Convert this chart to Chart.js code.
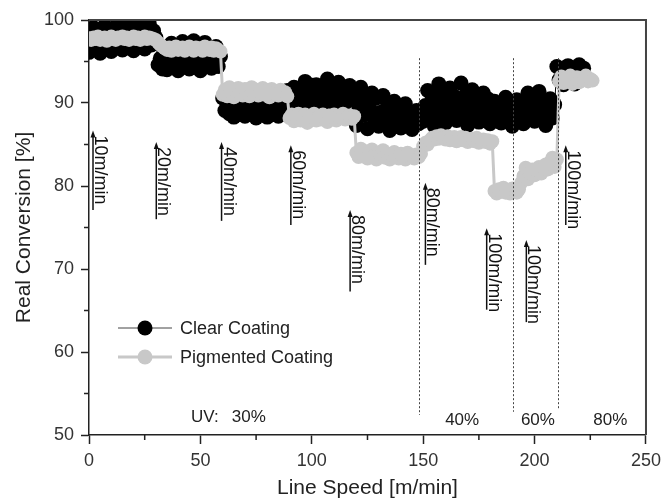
<!DOCTYPE html>
<html>
<head>
<meta charset="utf-8">
<script src="https://cdn.jsdelivr.net/npm/chart.js@4.4.0/dist/chart.umd.min.js"></script>
<style>
  html, body { margin: 0; padding: 0; background: #fff; }
  #wrap { width: 667px; height: 501px; position: relative; }
</style>
</head>
<body>
<div id="wrap"><canvas id="conversionChart"></canvas></div>
<script>
// line speed [m/min] of each sample
const lineSpeed = [
  0, 1, 2, 3, 4, 5, 6, 7, 8, 9, 10, 11, 12, 13, 14, 15, 16, 17, 18, 19,
  20, 21, 22, 23, 24, 25, 26, 27, 28, 29, 30, 31, 32, 33, 34, 35, 36, 37, 38, 39,
  40, 41, 42, 43, 44, 45, 46, 47, 48, 49, 50, 51, 52, 53, 54, 55, 56, 57, 58, 59,
  60, 61, 62, 63, 64, 65, 66, 67, 68, 69, 70, 71, 72, 73, 74, 75, 76, 77, 78, 79,
  80, 81, 82, 83, 84, 85, 86, 87, 88, 89, 90, 91, 92, 93, 94, 95, 96, 97, 98, 99,
  100, 101, 102, 103, 104, 105, 106, 107, 108, 109, 110, 111, 112, 113, 114, 115, 116, 117, 118, 119,
  120, 121, 122, 123, 124, 125, 126, 127, 128, 129, 130, 131, 132, 133, 134, 135, 136, 137, 138, 139,
  140, 141, 142, 143, 144, 145, 146, 147, 148, 149, 150, 151, 152, 153, 154, 155, 156, 157, 158, 159,
  160, 161, 162, 163, 164, 165, 166, 167, 168, 169, 170, 171, 172, 173, 174, 175, 176, 177, 178, 179,
  180, 181, 182, 183, 184, 185, 186, 187, 188, 189, 190, 191, 192, 193, 194, 195, 196, 197, 198, 199,
  200, 201, 202, 203, 204, 205, 206, 207, 208, 209, 210, 211, 212, 213, 214, 215, 216, 217, 218, 219,
  220, 221, 222, 223, 224, 225, 226
];

// real conversion [%], clear coating
const clearConv = [
  // 10 m/min
  96.1, 97.7, 99.1, 96.9, 98.4, 96.0, 97.8, 99.3, 96.8, 98.6, 96.2, 97.6, 99.2, 97.0, 98.5,
  96.4, 97.9, 99.6, 97.1, 98.8, 96.3, 98.0, 99.7, 97.2, 98.9, 96.5, 97.8, 99.6, 97.0, 98.7,
  // 20 m/min
  97.9, 94.6, 95.4, 94.1, 96.2, 94.0, 95.3, 97.2, 94.6, 96.3, 93.9, 95.2, 97.4, 94.7, 96.2,
  94.1, 95.4, 97.5, 94.5, 96.1, 93.9, 95.3, 97.3, 94.6, 96.3, 94.2, 95.1, 96.8, 94.4, 95.6,
  // 40 m/min
  90.6, 89.1, 89.9, 88.7, 89.5, 88.3, 89.2, 89.8, 88.6, 89.4, 88.4, 89.0, 89.9, 88.7, 89.5,
  88.2, 89.1, 89.8, 88.8, 89.4, 88.3, 89.2, 89.9, 88.6, 89.5, 88.4, 89.0, 89.8, 90.6, 91.5,
  // 60 m/min
  89.9, 91.3, 91.9, 90.6, 91.6, 90.0, 91.2, 92.6, 90.7, 92.2, 89.8, 91.4, 92.2, 90.5, 91.8,
  90.0, 91.3, 92.9, 90.6, 92.3, 89.9, 91.2, 92.5, 90.7, 92.0, 90.0, 91.4, 92.1, 90.6, 91.5,
  // 80 m/min
  87.3, 89.6, 91.9, 88.5, 90.8, 86.9, 89.3, 91.2, 88.2, 90.6, 87.2, 88.9, 90.9, 87.9, 89.7,
  86.7, 88.6, 90.2, 87.7, 89.6, 87.0, 88.3, 89.9, 87.5, 88.8, 86.8, 88.1, 89.1, 87.5, 88.7,
  // 80 m/min, UV 40%
  87.8, 89.7, 91.5, 88.6, 90.9, 87.2, 89.8, 92.3, 88.5, 91.0, 87.6, 89.6, 91.8, 88.7, 90.8, 87.9,
  89.8, 92.4, 88.6, 90.9, 87.3, 89.7, 91.6, 88.5, 90.8, 87.7, 89.5, 91.2, 88.4, 90.5, 87.5, 89.6,
  // 100 m/min, UV 40% / 60%
  90.2, 88.2, 89.7, 87.6, 89.0, 90.7, 88.3, 89.8, 87.2, 89.1, 90.4, 88.1, 89.9, 87.5,
  89.4, 91.2, 88.6, 90.4, 87.8, 89.5, 91.4, 88.4, 90.0, 87.3, 89.0, 90.5, 88.2, 89.8,
  // 100 m/min, UV 80%
  94.4, 92.8, 94.0, 92.2, 93.4, 94.5, 92.9, 94.0, 92.3, 93.5, 94.6, 92.8, 94.2,
  null, null, null, null
];

// real conversion [%], pigmented coating
const pigmentedConv = [
  // 10 m/min
  97.8, 97.6, 97.9, 97.7, 98.0, 97.6, 97.8, 97.9, 97.5, 97.8, 98.0, 97.7, 97.6, 97.9, 97.8,
  98.0, 97.7, 97.9, 97.6, 97.8, 98.0, 97.7, 97.9, 97.6, 97.8, 98.0, 97.7, 97.9, 97.8, 97.7,
  // 20 m/min
  97.6, 97.3, 97.0, 96.8, 96.6,
  96.4, 96.7, 96.3, 96.6, 96.8, 96.4, 96.5, 96.7, 96.3, 96.6, 96.8, 96.5, 96.3, 96.7, 96.5,
  96.6, 96.3, 96.8, 96.5, 96.4, 96.7, 96.3, 96.6, 96.4, 96.2,
  // 40 m/min
  91.0, 91.6, 90.8, 91.9, 91.3, 90.7, 91.5, 91.8, 91.1, 90.9, 91.7, 91.4, 90.8, 91.9, 91.2,
  91.6, 90.9, 91.3, 91.8, 91.0, 91.5, 90.7, 91.7, 91.2, 91.4, 90.9, 91.6, 91.1, 91.3, 90.8,
  // 60 m/min
  88.2, 88.6, 87.8, 88.4, 88.7, 87.9, 88.3, 88.6, 87.6, 88.1, 88.5, 88.7, 87.9, 88.3, 88.0,
  88.6, 88.2, 87.7, 88.5, 88.1, 88.6, 87.9, 88.4, 88.2, 88.7, 88.0, 88.3, 88.5, 88.1, 88.4,
  // 80 m/min
  84.0, 83.5, 84.5, 83.8, 84.2, 83.3, 83.9, 84.4, 83.6, 83.2, 84.0, 83.7, 84.3, 83.4, 83.9,
  83.2, 83.8, 84.1, 83.5, 83.3, 83.9, 83.6, 83.2, 84.0, 83.5, 83.7, 83.3, 83.8, 83.5, 83.9,
  // 80 m/min, UV 40%
  84.8, 85.2, 85.0, 85.5, 85.8, 85.6, 86.0, 85.7, 86.1, 85.8, 85.6, 86.0, 85.5, 85.8, 85.9, 85.4,
  85.7, 85.9, 85.5, 85.8, 85.3, 85.6, 85.7, 85.4, 85.8, 85.2, 85.5, 85.6, 85.3, 85.5, 85.1, 85.4,
  // 100 m/min, UV 40%
  79.4, 79.1, 79.6, 79.3, 79.8, 79.2, 79.5, 79.1, 79.7, 79.4, 79.2, 79.6,
  // 100 m/min, UV 60%
  80.4, 81.2, 82.2, 80.8, 81.6, 82.0, 81.3, 81.9, 82.3, 81.5, 82.1, 82.6, 82.0, 82.9, 83.4, 82.3, 83.2,
  // 100 m/min, UV 80%
  92.6, 93.2, 92.4, 93.0, 92.7, 93.3, 92.3, 92.9, 93.1, 92.5, 93.0, 92.8, 93.3, 92.6, 92.9, 92.7
];

// speed set points: arrow position (speed, conversion from/to) and label
const speedMarkX = [1.8, 30.2, 59.5, 90.6, 117.2, 151, 178.5, 196.3, 214];
const speedMarkLow = [77.1, 76.0, 75.8, 75.3, 67.3, 70.5, 65.1, 63.6, 75.3];
const speedMarkHigh = [86.7, 85.3, 85.3, 84.9, 77.1, 80.4, 74.9, 73.5, 84.9];
const speedMarkText = ['10m/min', '20m/min', '40m/min', '60m/min', '80m/min', '80m/min', '100m/min', '100m/min', '100m/min'];

// UV lamp power changes
const uvSwitchX = [148.2, 190.5, 210.6];
const uvSwitchLow = [52.4, 52.8, 53.0];
const uvSwitchHigh = [95.4, 95.4, 95.4];
const uvText = ['UV:', '30%', '40%', '60%', '80%'];
const uvTextX = [52, 71.7, 167.5, 201.5, 234];
const uvTextY = [52.1, 52.1, 51.8, 51.8, 51.8];

const xMinorTicks = [25, 75, 125, 175, 225];
const yMinorTicks = [55, 65, 75, 85, 95];

const FONT = '"Liberation Sans", Arial, Helvetica, sans-serif';
const INK = '#222';
const GREY = '#c8c8c8';

function toPoints(ys) {
  return lineSpeed.map((x, i) => ({ x: x, y: ys[i] }));
}

const extras = {
  id: 'extras',
  afterDatasetsDraw(chart) {
    const { ctx, chartArea: a, scales: { x, y } } = chart;
    ctx.save();

    // top and right frame
    ctx.strokeStyle = '#444';
    ctx.lineWidth = 2;
    ctx.beginPath();
    ctx.moveTo(a.left, a.top);
    ctx.lineTo(a.right, a.top);
    ctx.lineTo(a.right, a.bottom);
    ctx.stroke();

    // minor ticks
    ctx.strokeStyle = INK;
    ctx.lineWidth = 1.5;
    ctx.beginPath();
    xMinorTicks.forEach(v => {
      const px = x.getPixelForValue(v);
      ctx.moveTo(px, a.bottom);
      ctx.lineTo(px, a.bottom + 5);
    });
    yMinorTicks.forEach(v => {
      const py = y.getPixelForValue(v);
      ctx.moveTo(a.left, py);
      ctx.lineTo(a.left - 5, py);
    });
    ctx.stroke();

    // dashed UV switch lines
    ctx.strokeStyle = '#444';
    ctx.lineWidth = 1;
    ctx.setLineDash([2, 2]);
    uvSwitchX.forEach((v, i) => {
      const px = Math.round(x.getPixelForValue(v)) + 0.5;
      ctx.beginPath();
      ctx.moveTo(px, y.getPixelForValue(uvSwitchHigh[i]));
      ctx.lineTo(px, y.getPixelForValue(uvSwitchLow[i]));
      ctx.stroke();
    });
    ctx.setLineDash([]);

    // speed arrows with labels
    ctx.fillStyle = '#111';
    ctx.strokeStyle = '#111';
    ctx.lineWidth = 1.5;
    ctx.font = '18px ' + FONT;
    speedMarkX.forEach((v, i) => {
      const px = x.getPixelForValue(v);
      const lo = y.getPixelForValue(speedMarkLow[i]);
      const hi = y.getPixelForValue(speedMarkHigh[i]);
      ctx.beginPath();
      ctx.moveTo(px, lo);
      ctx.lineTo(px, hi + 5);
      ctx.stroke();
      ctx.beginPath();
      ctx.moveTo(px, hi);
      ctx.lineTo(px - 2.5, hi + 7);
      ctx.lineTo(px + 2.5, hi + 7);
      ctx.closePath();
      ctx.fill();
      ctx.save();
      ctx.translate(px + 2, hi + 5);
      ctx.rotate(Math.PI / 2);
      ctx.textAlign = 'left';
      ctx.textBaseline = 'alphabetic';
      ctx.fillText(speedMarkText[i], 0, 0);
      ctx.restore();
    });

    // UV power labels
    ctx.fillStyle = INK;
    ctx.font = '17px ' + FONT;
    ctx.textAlign = 'center';
    ctx.textBaseline = 'middle';
    uvText.forEach((t, i) => {
      ctx.fillText(t, x.getPixelForValue(uvTextX[i]), y.getPixelForValue(uvTextY[i]));
    });

    // legend
    const lx = a.left + 29, ly = a.top + 308;
    const rows = [
      { label: 'Clear Coating', line: '#444', lw: 1, fill: '#000' },
      { label: 'Pigmented Coating', line: GREY, lw: 3, fill: GREY }
    ];
    ctx.font = '18px ' + FONT;
    ctx.textAlign = 'left';
    rows.forEach((r, i) => {
      const yy = ly + i * 29;
      ctx.strokeStyle = r.line;
      ctx.lineWidth = r.lw;
      ctx.beginPath();
      ctx.moveTo(lx, yy);
      ctx.lineTo(lx + 54, yy);
      ctx.stroke();
      ctx.fillStyle = r.fill;
      ctx.beginPath();
      ctx.arc(lx + 27, yy, 7.5, 0, Math.PI * 2);
      ctx.fill();
      ctx.fillStyle = INK;
      ctx.fillText(r.label, lx + 62, yy + 1);
    });

    ctx.restore();
  }
};

new Chart(document.getElementById('conversionChart'), {
  type: 'line',
  data: {
    datasets: [
      {
        label: 'Clear Coating',
        data: toPoints(clearConv),
        order: 1,
        borderColor: '#000',
        borderWidth: 1,
        pointRadius: 7.5,
        pointBackgroundColor: '#000',
        pointBorderColor: '#000',
        pointBorderWidth: 0,
        tension: 0,
        spanGaps: false
      },
      {
        label: 'Pigmented Coating',
        data: toPoints(pigmentedConv),
        order: 0,
        borderColor: GREY,
        borderWidth: 3,
        pointRadius: 7,
        pointBackgroundColor: GREY,
        pointBorderColor: GREY,
        pointBorderWidth: 0,
        tension: 0
      }
    ]
  },
  options: {
    responsive: true,
    maintainAspectRatio: false,
    animation: false,
    events: [],
    layout: { padding: { top: 20, right: 16, left: 0, bottom: 0 } },
    scales: {
      x: {
        type: 'linear',
        min: 0,
        max: 250,
        afterFit: s => { s.height = 66; },
        ticks: {
          stepSize: 50,
          padding: 6,
          maxRotation: 0,
          color: '#333',
          font: { family: FONT, size: 18 }
        },
        grid: {
          drawOnChartArea: false,
          drawTicks: true,
          tickLength: 9,
          tickColor: INK,
          tickWidth: 1.5
        },
        border: { display: true, color: INK, width: 1.5 },
        title: {
          display: true,
          text: 'Line Speed [m/min]',
          color: INK,
          padding: { top: 0, bottom: 0 },
          font: { family: FONT, size: 21 }
        }
      },
      y: {
        min: 50,
        max: 100,
        afterFit: s => { s.width = 89; },
        ticks: {
          stepSize: 10,
          padding: 7,
          color: '#333',
          font: { family: FONT, size: 18 }
        },
        grid: {
          drawOnChartArea: false,
          drawTicks: true,
          tickLength: 8,
          tickColor: INK,
          tickWidth: 1.5
        },
        border: { display: true, color: INK, width: 1.5 },
        title: {
          display: true,
          text: 'Real Conversion [%]',
          color: INK,
          padding: { top: 12, bottom: 0 },
          font: { family: FONT, size: 21 }
        }
      }
    },
    plugins: {
      legend: { display: false },
      tooltip: { enabled: false }
    }
  },
  plugins: [extras]
});
</script>
</body>
</html>
